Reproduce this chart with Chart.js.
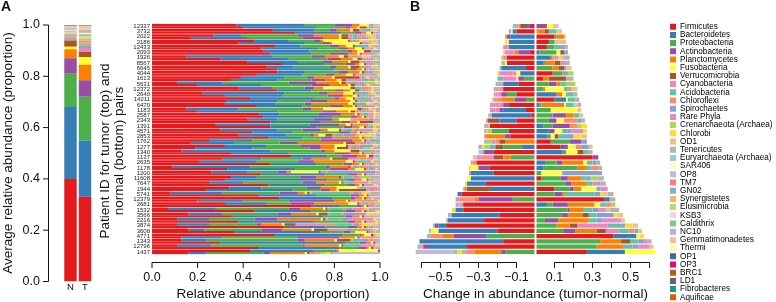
<!DOCTYPE html>
<html>
<head>
<meta charset="utf-8">
<script src="https://cdn.jsdelivr.net/npm/chart.js@4/dist/chart.umd.min.js"></script>
<style>
html,body{margin:0;padding:0;background:#fff;}
#wrap{position:relative;width:776px;height:302px;overflow:hidden;background:#fff;}
#wrap canvas{position:absolute;top:0;}
</style>
</head>
<body>
<div id="wrap">
  <canvas id="avgChart" width="110" height="302" style="left:0px;width:110px;height:302px"></canvas>
  <canvas id="pairChart" width="290" height="302" style="left:100px;width:290px;height:302px"></canvas>
  <canvas id="changeChart" width="290" height="302" style="left:390px;width:290px;height:302px"></canvas>
  <canvas id="legendChart" width="300" height="310" style="left:664px;width:300px;height:310px"></canvas>
</div>
<script>
// ---------------- DATA ----------------
const phyla = ['Firmicutes','Bacteroidetes','Proteobacteria','Actinobacteria','Planctomycetes','Fusobacteria',
  'Verrucomicrobia','Cyanobacteria','Acidobacteria','Chloroflexi','Spirochaetes','Rare Phyla',
  'Crenarchaeota (Archaea)','Chlorobi','OD1','Tenericutes','Euryarchaeota (Archaea)','SAR406','OP8','TM7',
  'GN02','Synergistetes','Elusimicrobia','KSB3','Caldithrix','NC10','Gemmatimonadetes','Thermi','OP1','OP3',
  'BRC1','LD1','Fibrobacteres','Aquificae'];
const phylumColors = ['#e41a1c','#377eb8','#4daf4a','#984ea3','#ff7f00','#ffff33','#a65628','#f781bf',
  '#66c2a5','#fc8d62','#8da0cb','#e78ac3','#a6d854','#ffd92f','#e5c494','#b3b3b3',
  '#8dd3c7','#ffffb3','#bebada','#fb8072','#80b1d3','#fdb462','#b3de69','#fccde5',
  '#7fc97f','#beaed4','#fdc086','#ffff99','#386cb0','#f0027f','#bf5b17','#666666','#1b9e77','#d95f02'];

// Panel A (left): average relative abundance, % (normal N, tumor T), one value per phylum
const avgNormal = [40,28,13,6,3.5,1,2.5,0.5,0.6,0.5,0.4,0.4,0.3,0.3,0.3,0.3,0.2,0.2,0.2,0.2,0.2,0.2,
  0.1,0.1,0.1,0.1,0.1,0.1,0.1,0.1,0.1,0.1,0.1,0.1];
const avgTumor = [33,22,17,6.5,6,3,2,1.5,1,0.8,0.3,0.8,0.6,0.5,0.6,0.5,0.4,0.4,0.4,0.3,0.3,0.3,
  0.2,0.2,0.2,0.2,0.2,0.2,0.1,0.1,0.1,0.1,0.1,0.1];

const patientIds = ['12337','3732','2022','2186','12433','2093','1926','8567','6645','4044','1613','5631',
  '12372','2640','14211','6470','1183','2587','2343','1391','4571','2853','1762','1277','1340','1137',
  '2635','1178','1200','11608','7647','1944','5741','12379','2681','1532','3566','2216','3874','3600',
  '4771','1343','12796','1437'];

// phyla resolved per patient (columns of the two tables below)
const detailPhyla = ['Firmicutes','Bacteroidetes','Proteobacteria','Actinobacteria','Planctomycetes',
  'Fusobacteria','Verrucomicrobia','Cyanobacteria','Acidobacteria','Chloroflexi','Spirochaetes',
  'Rare Phyla','Crenarchaeota (Archaea)','Chlorobi','OD1','Tenericutes','OP8'];

// normal sample composition, % (one row per patient)
const normalAbundance = [
  [40,32,13,2,3,1,3,1,1,1,0,0,0,0,0,3,0],
  [63,20,6,3,2,2,1,1,0,0,1,0,0,0,0,1,0],
  [17,25,24,9,7,1,3,2,2,2,1,2,1,1,1,2,0],
  [38,29,8,3,1,12,1,1,1,1,0,1,0,2,1,1,0],
  [48,25,9,4,3,3,1,1,1,1,0,1,0,1,1,1,0],
  [52,18,8,8,4,1,1,4,1,1,0,1,0,0,1,0,0],
  [30,30,17,6,5,2,2,2,1,1,0,1,1,0,1,1,0],
  [57,18,10,4,2,2,1,1,1,1,0,0,2,0,0,1,0],
  [55,25,7,3,2,1,1,1,1,1,0,1,0,0,0,1,1],
  [46,20,10,4,5,3,1,2,1,2,0,5,0,1,0,0,0],
  [35,20,15,6,5,2,2,7,3,1,1,1,0,1,0,1,0],
  [20,28,22,8,8,1,2,1,1,1,1,1,0,1,1,4,0],
  [55,15,10,4,3,2,2,2,1,1,0,1,0,1,0,3,0],
  [32,25,20,7,4,2,1,2,1,1,1,1,1,1,1,0,0],
  [33,22,14,8,10,2,1,1,1,2,1,2,0,1,1,1,0],
  [46,20,12,6,4,1,1,2,1,2,1,2,0,1,0,1,0],
  [20,35,20,6,5,1,2,2,1,1,1,3,0,1,0,2,0],
  [49,30,8,3,2,1,1,1,0,1,0,1,0,1,0,1,1],
  [52,22,9,4,3,1,6,1,0,0,0,1,0,0,0,1,0],
  [52,20,12,4,3,2,1,1,1,0,1,0,0,0,1,2,0],
  [44,18,20,5,3,1,1,1,1,1,0,0,2,0,1,2,0],
  [51,15,8,5,12,1,1,1,1,1,0,1,1,0,0,2,0],
  [17,19,20,8,20,1,4,1,1,2,1,2,2,0,0,2,0],
  [19,25,25,5,6,1,5,1,3,1,1,1,3,1,0,3,0],
  [35,25,20,7,4,1,1,1,1,1,1,1,0,0,0,0,2],
  [31,17,18,4,8,1,7,4,1,3,0,3,0,0,2,1,0],
  [52,20,12,4,3,1,1,1,1,2,0,1,0,1,0,1,0],
  [33,30,15,8,3,4,1,1,1,0,1,1,0,1,0,1,0],
  [48,28,10,4,2,1,1,1,1,1,0,1,0,0,0,2,0],
  [32,45,9,3,3,2,1,1,1,1,0,1,0,0,0,1,0],
  [51,25,10,3,2,1,1,1,1,1,0,1,0,1,1,1,0],
  [24,38,12,4,3,1,12,1,1,2,0,1,0,0,0,1,0],
  [47,25,15,4,2,1,1,1,1,1,0,1,0,0,0,1,0],
  [20,20,20,20,5,1,1,3,1,6,0,2,0,1,0,0,0],
  [70,12,8,2,1,1,1,1,0,0,1,1,0,0,0,2,0],
  [45,25,15,4,3,1,1,1,1,1,0,1,0,2,0,0,0],
  [35,40,10,3,3,1,1,1,1,1,0,1,0,0,0,2,1],
  [38,33,15,3,3,1,1,1,1,1,0,1,0,1,0,1,0],
  [58,18,10,4,2,1,1,1,1,1,0,1,0,0,0,2,0],
  [36,38,10,3,2,5,1,1,0,0,0,1,1,0,0,2,0],
  [13,18,33,18,7,1,1,1,0,6,0,0,0,0,0,2,0],
  [30,55,6,3,2,1,1,1,0,0,0,0,0,0,0,1,0],
  [47,35,8,4,1,1,1,0,0,1,0,0,0,0,0,2,0],
  [16,8,25,3,15,1,1,0,0,3,0,2,2,2,0,2,20]
];

// change in abundance, tumor minus normal, % (one row per patient)
const changeTumorMinusNormal = [
  [-3,-2,0,6,0,3,-3,0,0,-1,0,0,0,0,3,-3,0],
  [-10,-2,1,0,4,-1,2,0,4,0,-1,0,0,0,3,0,0],
  [10,-13,1,-2,4,0,0,0,0,-1,0,0,0,0,1,0,0],
  [7,-14,3,0,0,-1,0,0,0,0,0,0,0,-1,6,0,0],
  [6,-14,4,0,0,0,0,-1,3,-1,2,-1,0,0,0,2,0],
  [-3,2,9,-6,-2,2,2,-3,1,-1,1,-1,0,0,-1,0,0],
  [-15,8,0,0,1,0,0,-2,0,1,1,1,-1,1,2,3,0],
  [-15,4,1,0,5,-1,3,0,0,0,0,2,-2,0,0,3,0],
  [-5,-13,9,0,3,0,3,0,0,0,1,0,0,0,3,0,-1],
  [9,-8,5,0,0,-2,0,-2,1,-2,2,-5,3,-1,0,0,0],
  [4,-1,-5,-3,3,-1,9,-7,-3,0,0,0,0,0,0,4,0],
  [-9,-8,7,4,2,0,0,0,3,0,0,0,5,0,0,-4,0],
  [-17,0,4,0,1,10,0,-2,2,2,0,0,0,0,3,-3,0],
  [-10,11,-5,-3,3,2,0,-2,4,-1,0,-1,0,0,0,2,0],
  [10,6,-5,-6,-7,1,0,0,4,-2,0,-2,0,-1,0,2,0],
  [-14,2,1,-3,12,1,0,-2,4,-2,-1,-2,0,0,2,2,0],
  [-5,-12,8,-2,0,14,0,-2,0,0,0,-3,0,0,2,0,0],
  [-2,-21,9,7,4,0,0,0,3,0,0,0,0,0,2,-1,-1],
  [-10,-9,7,4,0,4,-6,0,0,7,2,-1,0,0,0,2,0],
  [-24,4,5,9,0,0,0,0,0,4,0,0,2,3,-1,-2,0],
  [-14,7,-9,3,0,4,0,0,3,0,2,6,-2,2,-1,-1,0],
  [-13,6,2,-3,-10,2,2,0,3,-1,5,0,0,5,2,0,0],
  [8,0,10,6,-16,0,-3,0,0,-2,3,-2,-2,0,0,-2,0],
  [13,-7,-10,4,0,4,-4,0,-3,3,4,0,-3,-1,2,-2,0],
  [-22,14,2,-5,0,6,3,0,3,0,-1,0,0,0,0,2,-2],
  [30,-1,-12,3,-4,0,-5,-3,0,-3,0,-3,0,0,-2,0,0],
  [-31,5,6,3,11,2,0,0,3,-2,2,-1,0,0,0,2,0],
  [-24,4,18,-6,5,-4,0,0,2,4,0,0,0,-1,0,2,0],
  [-22,-12,3,0,0,11,0,0,0,0,21,-1,0,0,0,0,0],
  [3,-34,10,4,7,-2,0,0,3,0,2,0,4,0,0,3,0],
  [-26,-10,16,3,8,0,0,0,3,0,0,4,0,-1,0,3,0],
  [10,-24,8,2,4,8,-12,0,2,-2,0,4,0,0,0,0,0],
  [-39,-2,10,4,1,0,0,0,16,0,3,0,0,2,2,3,0],
  [36,3,-12,-18,-2,0,0,-2,0,-6,0,-2,0,0,0,3,0],
  [-38,6,3,8,14,3,0,0,3,3,-1,-1,2,0,0,-2,0],
  [-38,-4,17,1,7,0,0,0,5,0,3,4,0,-2,2,5,0],
  [-19,-25,14,3,8,0,3,0,4,0,9,0,0,3,2,-2,0],
  [-27,-19,5,7,16,0,0,0,4,0,3,10,0,0,2,-1,0],
  [-47,-4,11,-2,7,0,4,16,7,0,2,0,0,4,3,-1,0],
  [-20,-31,15,6,11,-4,5,7,5,3,2,0,0,0,2,-1,0],
  [41,12,-26,-17,-6,2,0,0,0,-6,0,0,0,2,0,-2,0],
  [-17,-44,34,0,11,0,5,0,4,0,3,2,0,0,0,2,0],
  [-36,-20,32,-3,14,0,0,0,5,-1,3,6,0,0,2,-2,0],
  [27,20,-16,-2,-14,16,0,0,0,-3,0,-2,-2,-2,0,-2,-20]
];

const axisTicks01 = [0, 0.2, 0.4, 0.6, 0.8, 1.0];
const changeTicks = [0.1, 0.2, 0.3, 0.4, 0.5, 0.6];
const changeTickLabels = ['0.1', '0.3', '0.5'];

// ---------------- HELPERS ----------------
const FONT = "'Liberation Sans', Arial, Helvetica, sans-serif";
const INK = '#111';
function txt(ctx, s, x, y, size, o) {
  o = o || {};
  ctx.save();
  ctx.font = (o.bold ? 'bold ' : '') + size + 'px ' + FONT;
  ctx.fillStyle = o.color || INK;
  ctx.textAlign = o.align || 'center';
  ctx.textBaseline = o.baseline || 'middle';
  ctx.translate(x, y);
  if (o.rot) ctx.rotate(o.rot);
  ctx.fillText(s, 0, 0);
  ctx.restore();
}
function seg(ctx, x1, y1, x2, y2, color, w) {
  ctx.save();
  ctx.strokeStyle = color || INK;
  ctx.lineWidth = w || 1;
  ctx.beginPath();
  ctx.moveTo(x1, y1);
  ctx.lineTo(x2, y2);
  ctx.stroke();
  ctx.restore();
}
const colorOf = name => phylumColors[phyla.indexOf(name)];
const base = {
  responsive: false, animation: false, devicePixelRatio: 1,
  plugins: { legend: { display: false }, tooltip: { enabled: false } }
};

// ---------------- PANEL A: averages ----------------
new Chart(document.getElementById('avgChart'), {
  type: 'bar',
  data: {
    labels: ['N', 'T'],
    datasets: phyla.map((p, k) => ({
      label: p, data: [avgNormal[k] / 100, avgTumor[k] / 100],
      backgroundColor: phylumColors[k], borderWidth: 0,
      categoryPercentage: 1, barPercentage: 0.86
    }))
  },
  options: Object.assign({}, base, {
    layout: { padding: { left: 63.25, right: 17.75, top: 25, bottom: 20.5 } },
    scales: {
      x: { stacked: true, display: false },
      y: { stacked: true, display: false, min: 0, max: 1 }
    }
  }),
  plugins: [{
    id: 'rAxisA',
    afterDraw(chart) {
      const ctx = chart.ctx, y = chart.scales.y, x = chart.scales.x;
      const ax = 48.5;
      seg(ctx, ax, y.getPixelForValue(0), ax, y.getPixelForValue(1));
      axisTicks01.forEach(v => {
        const py = y.getPixelForValue(v);
        seg(ctx, 43, py, ax, py);
        txt(ctx, v.toFixed(1), 40, py, 12.5, { align: 'right' });
      });
      ['N', 'T'].forEach((l, i) => txt(ctx, l, x.getPixelForValue(i), 287, 9.5));
      txt(ctx, 'Average relative abundance (proportion)', 8, 153, 13.5, { rot: -Math.PI / 2 });
      txt(ctx, 'A', 1, 7, 14, { bold: true, align: 'left' });
    }
  }]
});

// ---------------- PANEL A: tumor / normal pairs ----------------
const pairSets = [];
detailPhyla.forEach((name, j) => {
  pairSets.push({
    label: name + ' (tumor)', stack: 'tumor',
    data: normalAbundance.map((row, i) => (row[j] + changeTumorMinusNormal[i][j]) / 100),
    backgroundColor: colorOf(name), borderWidth: 0, categoryPercentage: 0.92, barPercentage: 1
  });
});
detailPhyla.forEach((name, j) => {
  pairSets.push({
    label: name + ' (normal)', stack: 'normal',
    data: normalAbundance.map(row => row[j] / 100),
    backgroundColor: colorOf(name), borderWidth: 0, categoryPercentage: 0.92, barPercentage: 1
  });
});
new Chart(document.getElementById('pairChart'), {
  type: 'bar',
  data: { labels: patientIds, datasets: pairSets },
  options: Object.assign({}, base, {
    indexAxis: 'y',
    layout: { padding: { left: 0, right: 10, top: 23.5, bottom: 47.5 } },
    scales: {
      x: { stacked: true, display: false, min: 0, max: 1 },
      y: {
        stacked: true,
        grid: { display: false, drawTicks: false }, border: { display: false },
        ticks: { autoSkip: false, padding: 2, color: '#222', font: { size: 6, family: FONT } },
        afterFit: s => { s.width = 52; }
      }
    }
  }),
  plugins: [{
    id: 'rAxisMid',
    afterDraw(chart) {
      const ctx = chart.ctx, xs = chart.scales.x;
      const ly = 262.5;
      seg(ctx, xs.getPixelForValue(0), ly, xs.getPixelForValue(1), ly);
      axisTicks01.forEach(v => {
        const px = xs.getPixelForValue(v);
        seg(ctx, px, ly, px, 268);
        txt(ctx, v.toFixed(1), px, 278, 12.5);
      });
      txt(ctx, 'Relative abundance (proportion)', 173, 294, 13.5);
      txt(ctx, 'Patient ID for tumor (top) and', 5, 151, 13.5, { rot: -Math.PI / 2 });
      txt(ctx, 'normal (bottom) pairs', 19, 151, 13.5, { rot: -Math.PI / 2 });
    }
  }]
});

// ---------------- PANEL B: change ----------------
new Chart(document.getElementById('changeChart'), {
  type: 'bar',
  data: {
    labels: patientIds,
    datasets: detailPhyla.map((name, j) => ({
      label: name, data: changeTumorMinusNormal.map(row => row[j] / 100),
      backgroundColor: colorOf(name), borderWidth: 0, categoryPercentage: 0.78, barPercentage: 1
    }))
  },
  options: Object.assign({}, base, {
    indexAxis: 'y',
    layout: { padding: { left: 20, right: 19, top: 23.5, bottom: 47.5 } },
    scales: {
      x: { stacked: true, display: false, min: -0.66, max: 0.66 },
      y: { stacked: true, display: false }
    }
  }),
  plugins: [{
    id: 'rAxisB',
    afterDatasetsDraw(chart) {
      const xs = chart.scales.x, a = chart.chartArea;
      const p0 = xs.getPixelForValue(0);
      seg(chart.ctx, p0, a.top - 1, p0, a.bottom + 1, '#ffffff', 2);
    },
    afterDraw(chart) {
      const ctx = chart.ctx, xs = chart.scales.x;
      const ly = 262.5;
      seg(ctx, xs.getPixelForValue(-0.6), ly, xs.getPixelForValue(-0.1), ly);
      seg(ctx, xs.getPixelForValue(0.1), ly, xs.getPixelForValue(0.6), ly);
      changeTicks.forEach(v => {
        [-v, v].forEach(t => {
          const px = xs.getPixelForValue(t);
          seg(ctx, px, ly, px, 268);
        });
      });
      changeTickLabels.forEach(l => {
        const v = parseFloat(l);
        txt(ctx, '\u2212' + l, xs.getPixelForValue(-v), 278, 12.5);
        txt(ctx, l, xs.getPixelForValue(v), 278, 12.5);
      });
      txt(ctx, 'Change in abundance (tumor-normal)', xs.getPixelForValue(0), 294, 13.5);
      txt(ctx, 'B', 20, 7, 14, { bold: true, align: 'left' });
    }
  }]
});

// ---------------- LEGEND ----------------
new Chart(document.getElementById('legendChart'), {
  type: 'bar',
  data: { labels: [], datasets: [] },
  options: {
    responsive: false, animation: false, devicePixelRatio: 1,
    layout: { padding: { left: 6, top: 22.6, right: 0, bottom: 0 } },
    scales: { x: { display: false }, y: { display: false } },
    plugins: {
      tooltip: { enabled: false },
      legend: {
        display: true, position: 'left', align: 'start',
        labels: {
          boxWidth: 6, boxHeight: 6, padding: 0, color: '#222',
          font: { size: 8.2, family: FONT },
          generateLabels: () => phyla.map((p, i) => ({
            text: p, fillStyle: phylumColors[i], strokeStyle: phylumColors[i],
            lineWidth: 0, hidden: false, index: i
          }))
        }
      }
    }
  }
});
</script>
</body>
</html>
